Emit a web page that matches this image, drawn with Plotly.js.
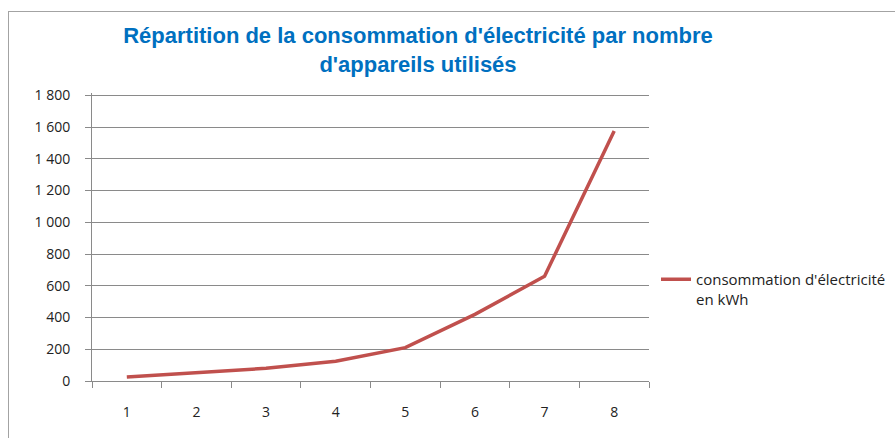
<!DOCTYPE html>
<html>
<head>
<meta charset="utf-8">
<script src="https://cdn.plot.ly/plotly-3.0.1.min.js"></script>
<style>
  html, body { margin: 0; padding: 0; width: 895px; height: 438px; overflow: hidden; background: #fff; }
  #frame { position: absolute; left: 8px; top: 11px; width: 1000px; height: 600px; border-top: 1px solid #a3a3a3; border-left: 1px solid #a3a3a3; pointer-events: none; }
  #chart { position: absolute; left: 0; top: 0; }
</style>
</head>
<body>
<div id="chart"></div>
<div id="frame"></div>
<script>
// Data
const categories = ["1", "2", "3", "4", "5", "6", "7", "8"];
const consommation = [25, 50, 80, 125, 210, 420, 660, 1575];
const seriesName = "consommation d'électricité<br>en kWh";
const titleText = "Répartition de la consommation d'électricité par nombre<br>d'appareils utilisés";

const W = 960, H = 438;
const gridCol = "#8a8a8a";

const trace = {
  type: "scatter",
  mode: "lines",
  x: categories,
  y: consommation,
  name: seriesName,
  line: { color: "#C0504D", width: 3.5 },
  showlegend: true
};

const layout = {
  width: W,
  height: H,
  autosize: false,
  margin: { l: 92, r: W - 649, t: 93, b: H - 381, pad: 0 },
  paper_bgcolor: "rgba(0,0,0,0)",
  plot_bgcolor: "rgba(0,0,0,0)",
  separators: ", ",
  font: { family: "Open Sans, sans-serif", size: 14, color: "#222" },
  title: {
    text: titleText,
    font: { family: "Liberation Sans, Arial, sans-serif", size: 22, color: "#0070C0", weight: "bold" },
    xref: "container",
    x: 418 / W,
    xanchor: "center",
    yref: "container",
    y: 1 - 43 / H,
    yanchor: "top"
  },
  xaxis: {
    type: "category",
    range: [-0.5, 7.5],
    tickson: "boundaries",
    ticks: "outside",
    ticklen: 6,
    tickcolor: gridCol,
    showline: true,
    linecolor: gridCol,
    linewidth: 1,
    showgrid: false,
    zeroline: false,
    ticklabelstandoff: 18,
    tickfont: { family: "Open Sans, sans-serif", size: 14, color: "#222" },
    fixedrange: true
  },
  yaxis: {
    range: [0, 1815],
    dtick: 200,
    tick0: 0,
    ticks: "outside",
    ticklen: 6,
    tickcolor: gridCol,
    showline: true,
    linecolor: gridCol,
    linewidth: 1,
    showgrid: true,
    gridcolor: gridCol,
    gridwidth: 1,
    zeroline: false,
    separatethousands: true,
    ticklabelstandoff: 12,
    tickfont: { family: "Open Sans, sans-serif", size: 14, color: "#222" },
    fixedrange: true
  },
  legend: {
    x: 1 + 7 / 557,
    xanchor: "left",
    xref: "paper",
    y: (381 - 263) / 288,
    yanchor: "top",
    valign: "top",
    bgcolor: "rgba(0,0,0,0)",
    font: { family: "Open Sans, sans-serif", size: 15, color: "#222" }
  },
  showlegend: true
};

Plotly.newPlot("chart", [trace], layout, { displayModeBar: false, staticPlot: true });
</script>
</body>
</html>
